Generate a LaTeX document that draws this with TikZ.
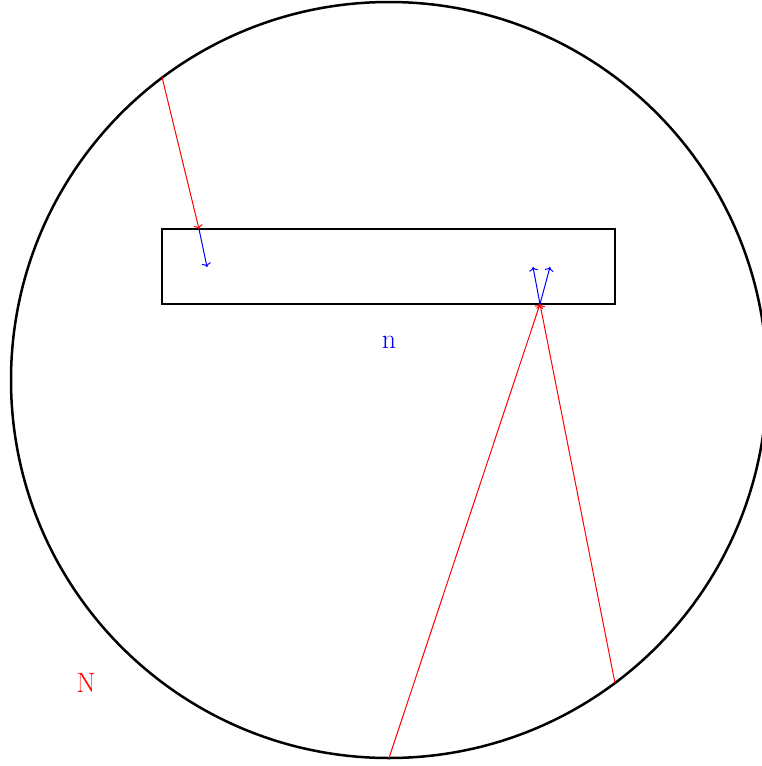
\documentclass[tikz,border=0pt]{standalone}
\usepackage{fontspec}
\usetikzlibrary{arrows.meta}
\begin{document}
\begin{tikzpicture}[x=1pt,y=-1pt,
  bold/.style={black,line width=2.5pt},
  ray/.style={red,line width=1pt,-{To[length=4pt,width=9pt]}},
  nrm/.style={blue,line width=1pt,-{To[length=4pt,width=9pt]}},
  lbl/.style={font=\fontsize{28}{30}\selectfont}]
\useasboundingbox (0,0) rectangle (761,766);
\coordinate (O) at (389,380);
\draw[bold] (O) circle[radius=378];
\draw[bold] (162,229) rectangle (615,304);
\coordinate (A1) at (162,77);
\coordinate (B1) at (199,229);
\coordinate (C1) at (207,267);
\coordinate (A2) at (389,758);
\coordinate (A3) at (615,683);
\coordinate (B2) at (540,304);
\coordinate (C2) at (533,267);
\coordinate (C3) at (550,267);
\draw[ray] (A1) -- (B1);
\draw[nrm] (B1) -- (C1);
\draw[ray] (A2) -- (B2);
\draw[ray] (A3) -- (B2);
\draw[nrm] (B2) -- (C2);
\draw[nrm] (B2) -- (C3);
\node[lbl,blue] (n) at (389,342) {n};
\node[lbl,red] (N) at (86,683) {N};
\end{tikzpicture}
\end{document}
